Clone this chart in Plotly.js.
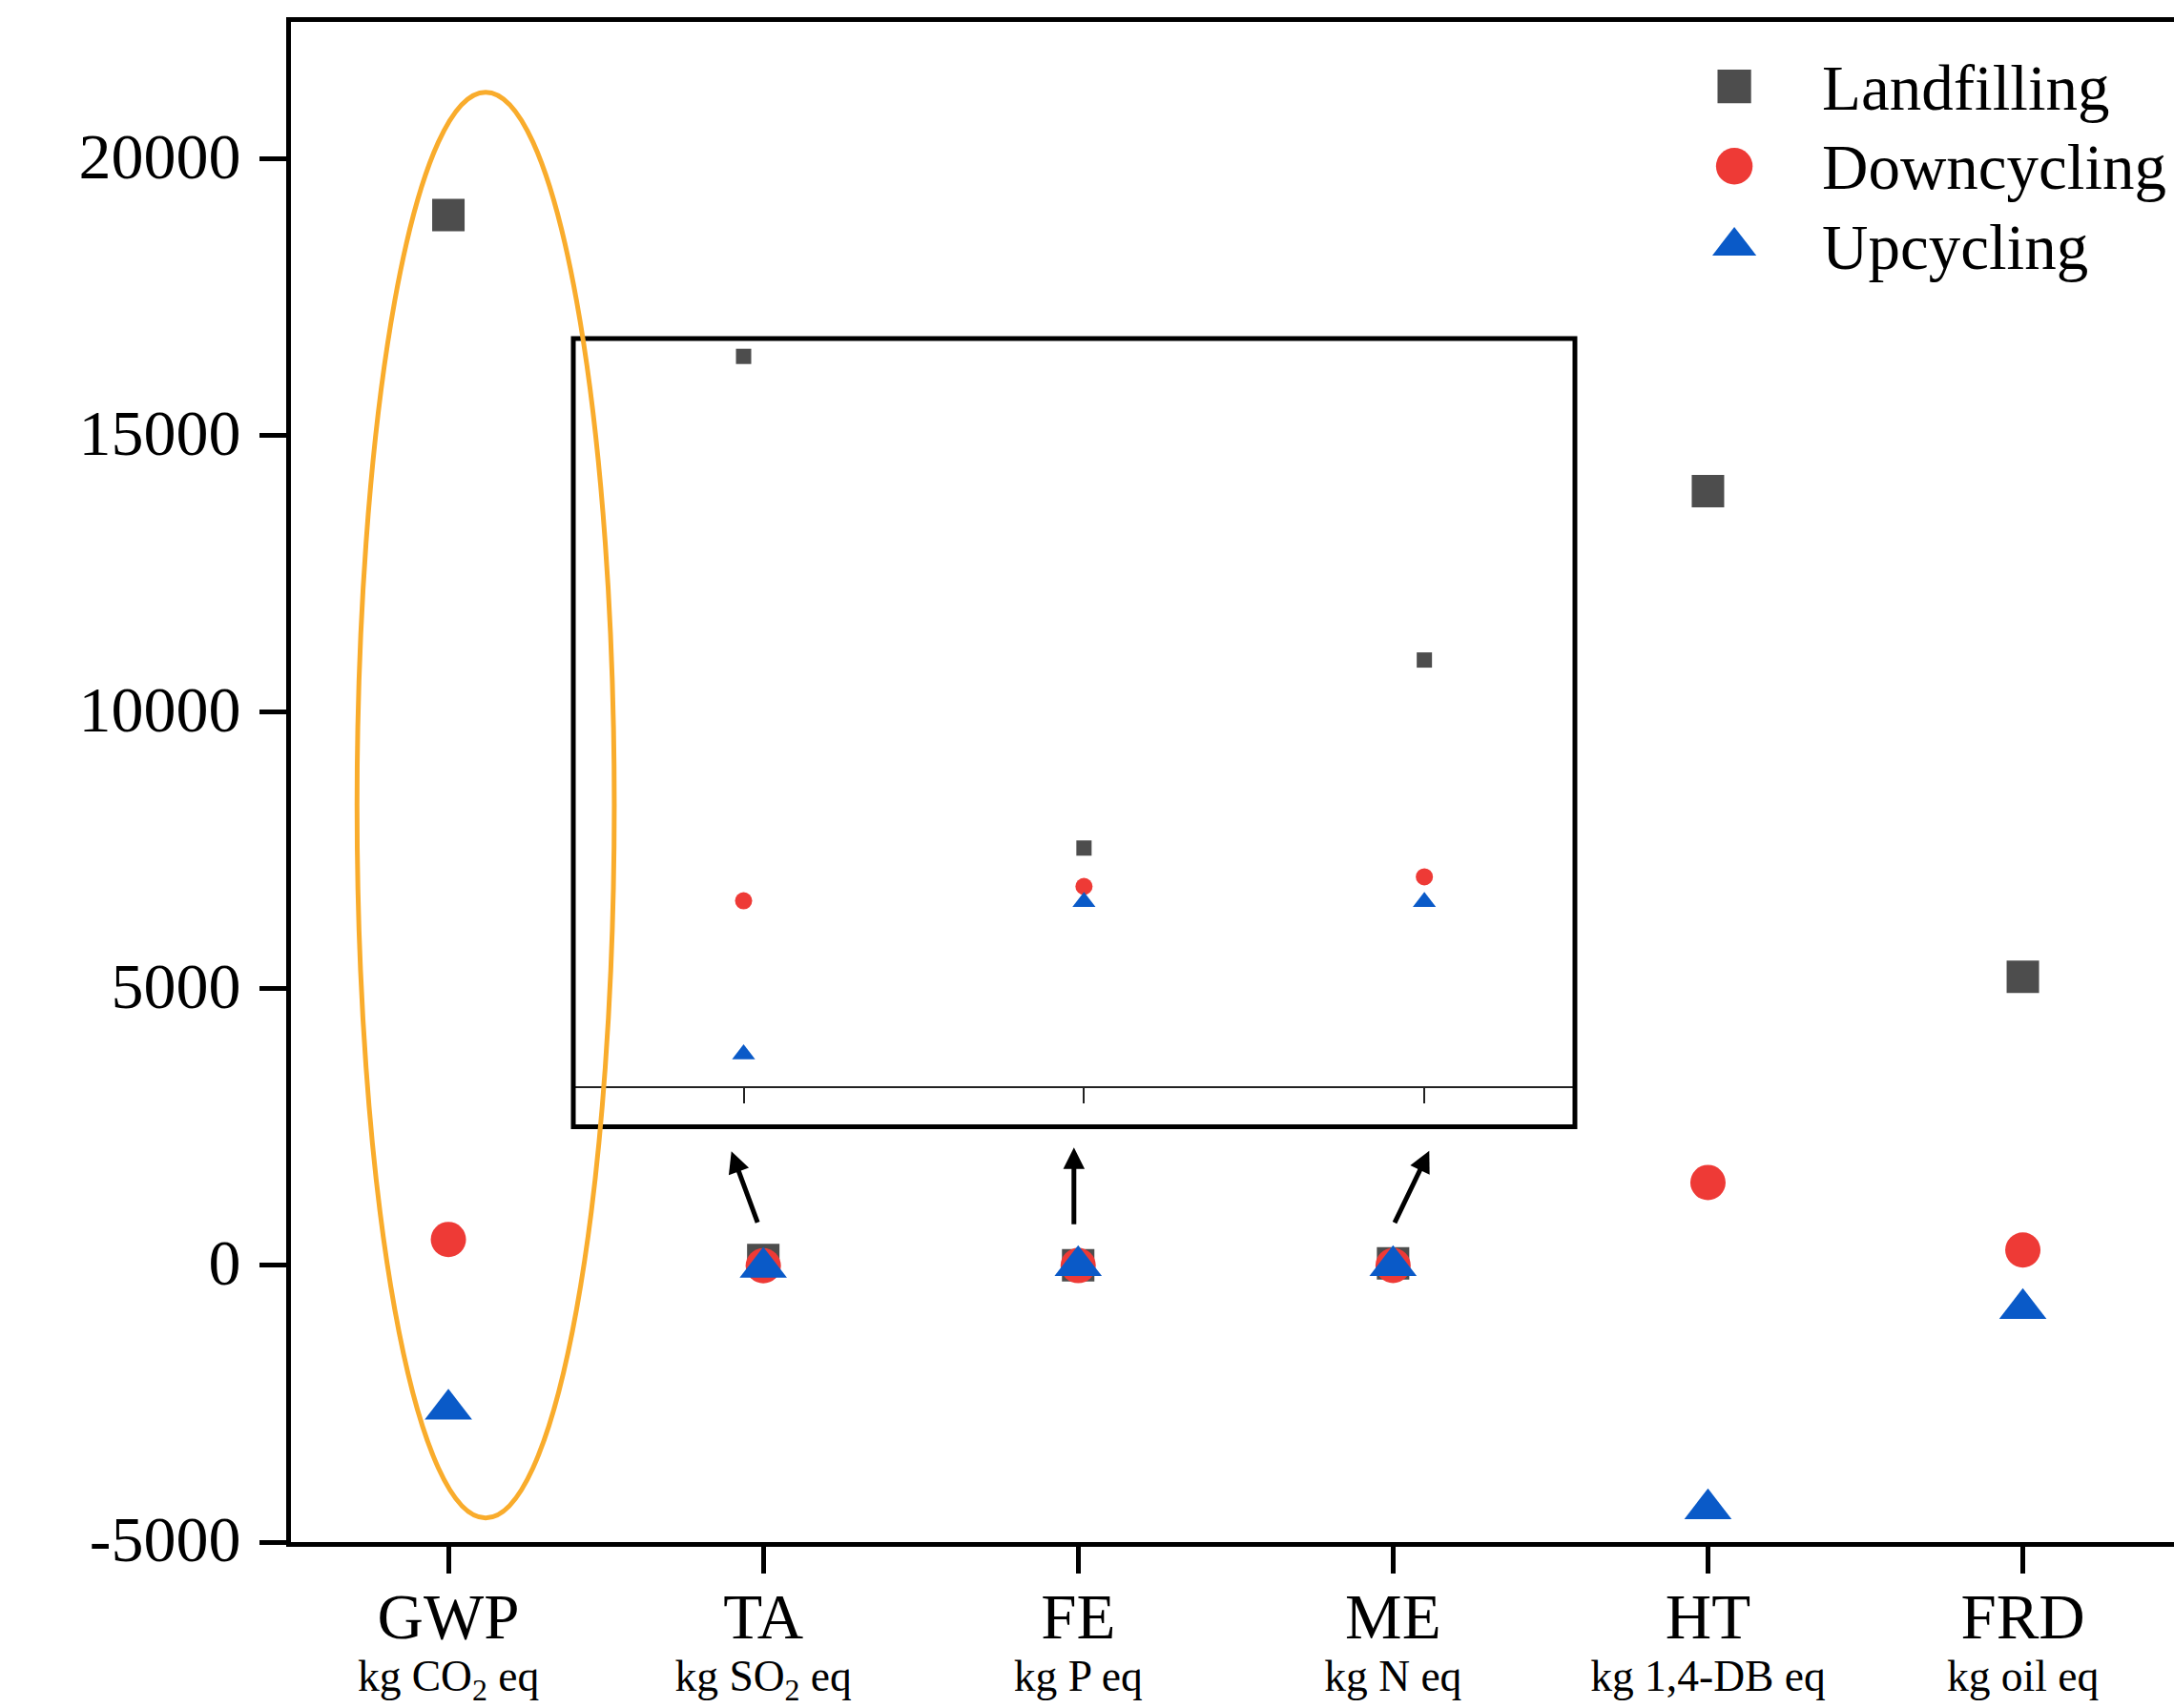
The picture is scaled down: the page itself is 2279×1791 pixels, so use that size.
<!DOCTYPE html>
<html>
<head>
<meta charset="utf-8">
<script src="https://cdn.plot.ly/plotly-3.0.1.min.js"></script>
<style>html,body{margin:0;padding:0;background:#fff;}#chart{width:2279px;height:1791px;}</style>
</head>
<body>
<div id="chart"></div>
<script>
// ---- data ----
const categories = ['GWP', 'TA', 'FE', 'ME', 'HT', 'FRD'];
const categoryLabels = ['GWP', 'TA', 'FE', 'ME', 'HT', 'FRD'];
const unitLabels = ['kg CO<sub>2</sub> eq', 'kg SO<sub>2</sub> eq', 'kg P eq', 'kg N eq', 'kg 1,4-DB eq', 'kg oil eq'];
const landfilling = [18990, 97, 4.7, 40, 14000, 5220];
const downcycling = [470, -5.2, -2.5, -0.7, 1500, 280];
const upcycling   = [-2600, -34, -5.4, -5.4, -4400, -780];
const seriesNames = ['Landfilling', 'Downcycling', 'Upcycling'];
const yTickVals = [-5000, 0, 5000, 10000, 15000, 20000];
const yTickText = ['-5000', '0', '5000', '10000', '15000', '20000'];
const insetCategories = ['TA', 'FE', 'ME'];

// ---- styling ----
const FONT = 'Liberation Serif, Times New Roman, serif';
const colors = ['#4d4d4d', '#ee3a36', '#0a5ac8'];
const symbols = ['square', 'circle', 'triangle-up'];
const mainSizes = [34, 37, 43];
const insetSizes = [16, 18, 21];
const legendScale = [2.2, 2.4, 2.5];
const series = [landfilling, downcycling, upcycling];

const insetIdx = insetCategories.map(c => categories.indexOf(c));

const traces = [];
series.forEach((vals, i) => {
  traces.push({
    type: 'scatter', mode: 'markers',
    name: '<span style="font-size:67px">' + seriesNames[i] + '</span>',
    x: categories, y: vals, xaxis: 'x', yaxis: 'y',
    marker: {symbol: symbols[i], size: mainSizes[i], color: colors[i], line: {width: 0}},
    hoverinfo: 'x+y'
  });
});
series.forEach((vals, i) => {
  traces.push({
    type: 'scatter', mode: 'markers', name: seriesNames[i], showlegend: false,
    x: insetCategories, y: insetIdx.map(k => vals[k]), xaxis: 'x2', yaxis: 'y2',
    marker: {symbol: symbols[i], size: insetSizes[i], color: colors[i], line: {width: 0}},
    hoverinfo: 'x+y+name'
  });
});

const tickText = categoryLabels.map((c, i) =>
  '<span style="font-size:67px">' + c + '</span><br><span style="font-size:45.5px">' + unitLabels[i] + '</span>');

const layout = {
  width: 2279, height: 1791,
  margin: {l: 305, r: 0, t: 23, b: 174, pad: 0},
  paper_bgcolor: '#ffffff', plot_bgcolor: 'rgba(0,0,0,0)',
  font: {family: FONT, color: '#000'},
  showlegend: true,
  legend: {
    x: 0.7199, xanchor: 'left', y: 0.9869, yanchor: 'top',
    bgcolor: 'rgba(0,0,0,0)', borderwidth: 0,
    font: {family: FONT, size: 62, color: '#000'},
    itemwidth: 174, tracegroupgap: 0
  },
  xaxis: {
    type: 'category', range: [-0.5, 5.48], domain: [0, 1],
    tickmode: 'array', tickvals: categories, ticktext: tickText,
    ticks: 'outside', ticklen: 28, tickwidth: 5, tickcolor: '#000',
    ticklabelstandoff: 18,
    showline: true, linewidth: 5, linecolor: '#000', mirror: true,
    showgrid: false, zeroline: false,
    tickfont: {family: FONT, size: 42, color: '#000'}
  },
  yaxis: {
    range: [-5000, 22480], domain: [0, 1],
    tickmode: 'array', tickvals: yTickVals, ticktext: yTickText,
    ticks: 'outside', ticklen: 28, tickwidth: 5, tickcolor: '#000',
    ticklabelstandoff: 6, ticklabelshift: -4,
    showline: true, linewidth: 5, linecolor: '#000', mirror: false,
    showgrid: false, zeroline: false,
    tickfont: {family: FONT, size: 68, color: '#000'}
  },
  xaxis2: {
    type: 'category', anchor: 'y2', domain: [0.1500, 0.6809], range: [-0.5, 2.437],
    tickmode: 'array', tickvals: insetCategories, showticklabels: false,
    ticks: 'outside', ticklen: 16, tickwidth: 2, tickcolor: '#222',
    showline: true, linewidth: 2, linecolor: '#222', mirror: false,
    showgrid: false, zeroline: false
  },
  yaxis2: {
    anchor: 'x2', domain: [0.2999, 0.7905], range: [-40, 100],
    showticklabels: false, ticks: '', showline: false, showgrid: false, zeroline: false
  },
  shapes: [
    {type: 'rect', xref: 'paper', yref: 'paper', x0: 0.14995, x1: 0.68186, y0: 0.2732, y1: 0.7917,
     line: {color: '#000', width: 5}, fillcolor: 'rgba(0,0,0,0)', layer: 'above'},
    {type: 'circle', xref: 'paper', yref: 'paper', x0: 0.0351, x1: 0.1717, y0: 0.01587, y1: 0.9538,
     line: {color: '#f9ac2c', width: 5}, fillcolor: 'rgba(0,0,0,0)', layer: 'above'}
  ],
  annotations: [
    {xref: 'paper', yref: 'paper', x: 0.2339, y: 0.2570, ax: 28, ay: 76, axref: 'pixel', ayref: 'pixel',
     showarrow: true, arrowhead: 2, arrowsize: 0.9, arrowwidth: 5, arrowcolor: '#000', text: ''},
    {xref: 'paper', yref: 'paper', x: 0.4158, y: 0.2595, ax: 0, ay: 82, axref: 'pixel', ayref: 'pixel',
     showarrow: true, arrowhead: 2, arrowsize: 0.9, arrowwidth: 5, arrowcolor: '#000', text: ''},
    {xref: 'paper', yref: 'paper', x: 0.6045, y: 0.2574, ax: -37, ay: 77, axref: 'pixel', ayref: 'pixel',
     showarrow: true, arrowhead: 2, arrowsize: 0.9, arrowwidth: 5, arrowcolor: '#000', text: ''}
  ]
};

Plotly.newPlot('chart', traces, layout, {displayModeBar: false, responsive: false, staticPlot: true}).then(gd => {
  // enlarge legend symbols to match the plotted marker sizes
  gd.querySelectorAll('.legend .traces').forEach((t, i) => {
    t.querySelectorAll('path.scatterpts').forEach(p => {
      const tr = p.getAttribute('transform') || '';
      p.setAttribute('transform', tr + ' scale(' + legendScale[i] + ')');
    });
  });
});
</script>
</body>
</html>
